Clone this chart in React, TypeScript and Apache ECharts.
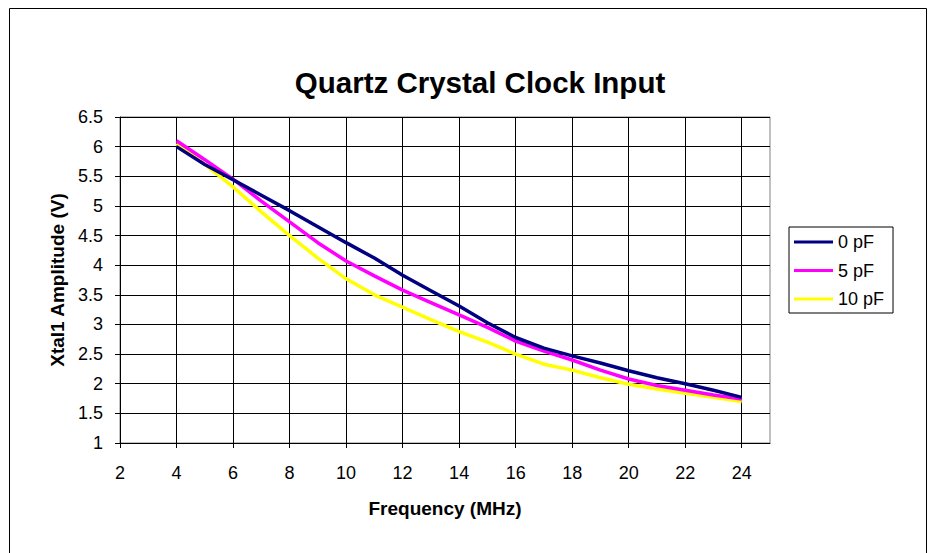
import React, { useEffect, useRef } from "react";
import * as echarts from "echarts";

const freqs = [4, 5, 6, 7, 8, 9, 10, 11, 12, 13, 14, 15, 16, 17, 18, 19, 20, 21, 22, 23, 24];
const pf0 = [6.0, 5.7, 5.44, 5.18, 4.92, 4.65, 4.38, 4.12, 3.83, 3.57, 3.31, 3.03, 2.78, 2.6, 2.47, 2.35, 2.22, 2.1, 2.0, 1.89, 1.77];
const pf5 = [6.1, 5.78, 5.45, 5.08, 4.73, 4.38, 4.07, 3.82, 3.58, 3.37, 3.16, 2.95, 2.72, 2.55, 2.4, 2.23, 2.08, 1.97, 1.89, 1.81, 1.74];
const pf10 = [6.05, 5.7, 5.32, 4.9, 4.5, 4.12, 3.77, 3.5, 3.29, 3.08, 2.88, 2.7, 2.5, 2.33, 2.23, 2.1, 1.99, 1.91, 1.84, 1.77, 1.7];
const seriesNames = ["0 pF", "5 pF", "10 pF"];
const seriesColors = ["#000080", "#FF00FF", "#FFFF00"];
const xTicks = [2, 4, 6, 8, 10, 12, 14, 16, 18, 20, 22, 24];

const FONT = 'Arial, "Liberation Sans", Helvetica, sans-serif';

export default function App() {
  const ref = useRef<HTMLDivElement>(null);
  useEffect(() => {
    document.body.style.margin = "0";
    const chart = echarts.init(ref.current!, null, { renderer: "svg" });
    const all = [pf0, pf5, pf10];
    chart.setOption({
      animation: false,
      backgroundColor: "#ffffff",
      textStyle: { fontFamily: FONT },
      title: {
        text: "Quartz Crystal Clock Input",
        left: 475,
        top: 62,
        textAlign: "center",
        textStyle: { fontFamily: FONT, fontSize: 29.5, fontWeight: "bold", color: "#000" },
      },
      graphic: [
        {
          type: "rect",
          shape: { x: 9.5, y: 8.5, width: 917, height: 560 },
          style: { fill: "none", stroke: "#000", lineWidth: 1 },
          silent: true,
        },
      ],
      legend: {
        orient: "vertical",
        left: 789,
        top: 227,
        padding: [6, 9, 5, 5],
        itemWidth: 39,
        itemHeight: 18,
        itemGap: 10.5,
        itemTextGap: 3,
        borderColor: "#000",
        borderWidth: 1,
        icon: "path://M0,0 H39 V3 H0 Z",
        textStyle: { fontFamily: FONT, fontSize: 18, lineHeight: 18, color: "#000" },
        data: seriesNames,
      },
      grid: {
        left: 120,
        top: 117,
        right: 164,
        bottom: 110,
        show: true,
        borderColor: "#808080",
        borderWidth: 1,
      },
      xAxis: {
        type: "value",
        min: 2,
        max: 25,
        interval: 1,
        name: "Frequency (MHz)",
        nameLocation: "middle",
        nameGap: 56,
        nameTextStyle: { fontFamily: FONT, fontSize: 19, fontWeight: "bold", color: "#000" },
        axisLine: { show: true, lineStyle: { color: "#000", width: 1 } },
        axisTick: { show: true, length: 5, lineStyle: { color: "#000" }, customValues: xTicks },
        axisLabel: { customValues: xTicks, margin: 21, fontFamily: FONT, fontSize: 18, color: "#000" },
        splitLine: { show: true, lineStyle: { color: "#000", width: 1 } },
      },
      yAxis: {
        type: "value",
        min: 1,
        max: 6.5,
        interval: 0.5,
        name: "Xtal1 Amplitude (V)",
        nameLocation: "middle",
        nameGap: 52,
        nameTextStyle: { fontFamily: FONT, fontSize: 19, fontWeight: "bold", color: "#000" },
        axisLine: { show: true, lineStyle: { color: "#000", width: 1 } },
        axisTick: { show: true, length: 5, lineStyle: { color: "#000" } },
        axisLabel: { margin: 17, fontFamily: FONT, fontSize: 18, color: "#000" },
        splitLine: { show: true, lineStyle: { color: "#000", width: 1 } },
      },
      series: seriesNames.map((name, i) => ({
        name,
        type: "line",
        data: freqs.map((f, j) => [f, all[i][j]]),
        showSymbol: false,
        symbol: "none",
        color: seriesColors[i],
        lineStyle: { color: seriesColors[i], width: 3.5 },
        itemStyle: { color: seriesColors[i] },
        z: 2 + (2 - i),
      })),
    });
    return () => chart.dispose();
  }, []);
  return <div ref={ref} style={{ width: 934, height: 553, position: "absolute", left: 0, top: 0 }} />;
}
